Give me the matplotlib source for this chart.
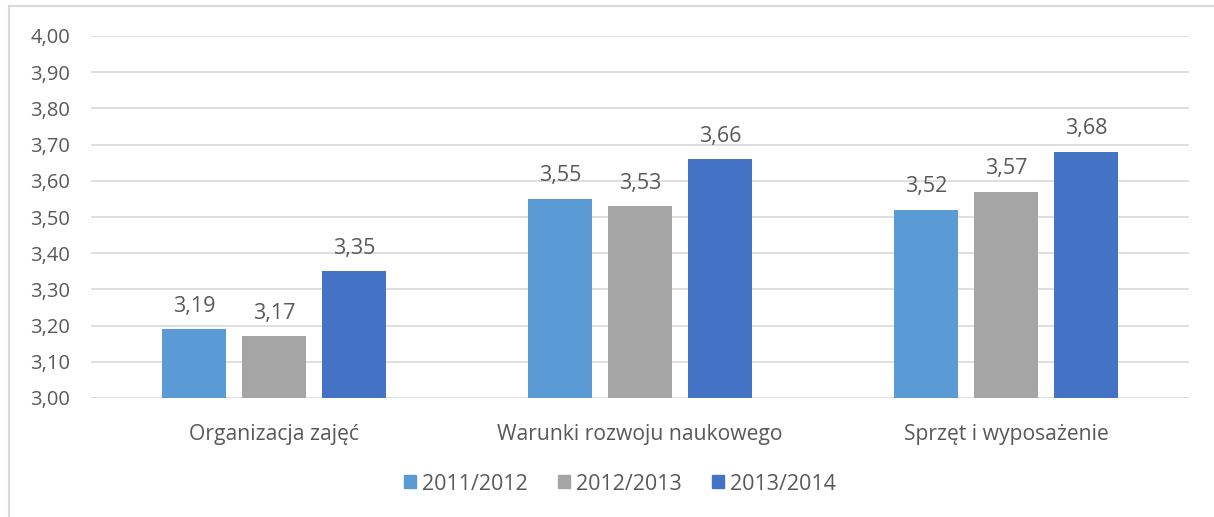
import matplotlib
matplotlib.use("Agg")
import matplotlib.pyplot as plt
from matplotlib.lines import Line2D
import numpy as np

categories = ["Organizacja zajęć", "Warunki rozwoju naukowego", "Sprzęt i wyposażenie"]
series = ["2011/2012", "2012/2013", "2013/2014"]
v2011 = [3.19, 3.55, 3.52]
v2012 = [3.17, 3.53, 3.57]
v2013 = [3.35, 3.66, 3.68]
yticks = [3.0 + i * 0.1 for i in range(11)]

colors = ["#5B9BD5", "#A5A5A5", "#4472C4"]
txt = "#595959"
plt.rcParams['font.family'] = ['Open Sans', 'DejaVu Sans']

fig = plt.figure(figsize=(12.14, 5.17), dpi=100)
ax = fig.add_axes([91/1214, 1-398/517, (1189-91)/1214, (398-36)/517])

x = np.arange(len(categories))
w = 0.175
off = 0.2186
for i, (vals, c, lab) in enumerate(zip([v2011, v2012, v2013], colors, series)):
    ax.bar(x + (i - 1) * off, vals, width=w, color=c, label=lab, zorder=3)
    for xi, v in zip(x + (i - 1) * off, vals):
        ax.annotate(f"{v:.2f}".replace(".", ","), (xi, v), xytext=(0, 9),
                    textcoords="offset points", ha="center", va="bottom",
                    fontsize=15.5, color=txt)

ax.set_xlim(-0.5, 2.5)
ax.set_ylim(3.0, 4.0)
ax.set_yticks(yticks)
ax.set_yticklabels([f"{t:.2f}".replace(".", ",") for t in yticks])
ax.set_xticks(x)
ax.set_xticklabels(categories)
ax.tick_params(axis='y', length=0, pad=15, labelsize=14.5, labelcolor=txt)
ax.tick_params(axis='x', length=0, pad=19, labelsize=15.2, labelcolor=txt)
ax.grid(axis='y', color="#D9D9D9", linewidth=1.2, zorder=0)
for s in ax.spines.values():
    s.set_visible(False)

handles = [plt.Rectangle((0, 0), 1, 1, color=c) for c in colors]
fig.legend(handles, series, loc="center", bbox_to_anchor=(620/1214, 1-484/517),
           ncol=3, frameon=False, fontsize=15.5, labelcolor=txt,
           handlelength=0.55, handleheight=0.55, handletextpad=0.3, columnspacing=1.4)

# figure border (left and top)
fig.add_artist(Line2D([9/1214, 9/1214], [0, 1-6/517], color="#D9D9D9", lw=1.5))
fig.add_artist(Line2D([9/1214, 1], [1-6/517, 1-6/517], color="#D9D9D9", lw=1.5))

fig.savefig("out.png", dpi=100)
